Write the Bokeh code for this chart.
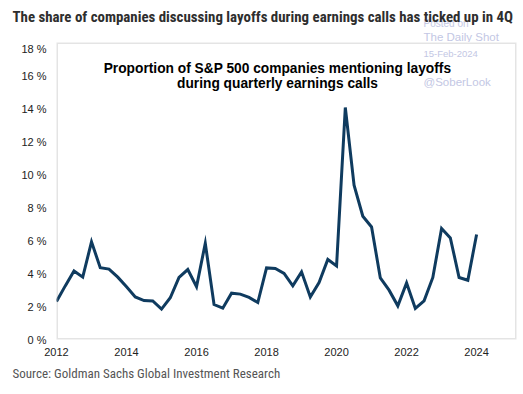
from bokeh.plotting import figure
from bokeh.models import ColumnDataSource, Range1d, FixedTicker, Label, BoxAnnotation
from bokeh.layouts import column
from bokeh.embed import file_html
from bokeh.resources import INLINE

# Quarterly share (%) of S&P 500 companies mentioning layoffs (4Q2011 .. 4Q2023)
share = [2.3, 3.25, 4.15, 3.78, 5.92, 4.35, 4.27, 3.78, 3.19, 2.58,
         2.36, 2.34, 1.84, 2.53, 3.76, 4.24, 3.2, 5.83, 2.12, 1.9,
         2.81, 2.75, 2.55, 2.24, 4.34, 4.30, 4.0, 3.25, 4.10, 2.58,
         3.45, 4.85, 4.46, 14.06, 9.35, 7.47, 6.82, 3.73, 2.99, 2.04,
         3.43, 1.88, 2.34, 3.76, 6.73, 6.16, 3.76, 3.59, 6.36]
quarter_pos = [2012 + 0.25 * i for i in range(len(share))]

x_ticks = [2012, 2014, 2016, 2018, 2020, 2022, 2024]
y_ticks = [0, 2, 4, 6, 8, 10, 12, 14, 16, 18]

title_text = "The share of companies discussing layoffs during earnings calls has ticked up in 4Q"
subtitle_1 = "Proportion of S&P 500 companies mentioning layoffs"
subtitle_2 = "during quarterly earnings calls"
source_text = "Source: Goldman Sachs Global Investment Research"

NARROW = "'Liberation Sans Narrow', 'Roboto Condensed', Roboto"
WM = "#c3c7e4"
W = 523

# ---------- header ----------
head = figure(width=W, height=42, output_backend="svg", toolbar_location=None,
              x_axis_type=None, y_axis_type=None, min_border=0, frame_align=False,
              x_range=Range1d(0, W), y_range=Range1d(42, 0))
head.outline_line_color = None
head.grid.visible = False
head.add_layout(Label(x=423, y=23, text="Posted on", text_font="Liberation Sans",
                      text_font_size="10px", text_color=WM, text_baseline="middle"))
head.add_layout(Label(x=423, y=36.5, text="The Daily Shot", text_font="Liberation Sans",
                      text_font_size="11.5px", text_color=WM, text_baseline="middle"))
head.add_layout(Label(x=12, y=16.5, text=title_text, text_font=NARROW,
                      text_font_size="14.9px", text_font_style="bold",
                      text_color="#2e2e2e", text_baseline="middle"))

# ---------- main chart ----------
src = ColumnDataSource(dict(x=quarter_pos, y=share))
p = figure(width=W, height=320, output_backend="svg", toolbar_location=None,
           x_range=Range1d(2012, 2025.14), y_range=Range1d(0, 18), frame_align=False,
           min_border_left=56, min_border_right=7, min_border_top=0, min_border_bottom=23)
p.outline_line_color = None
p.grid.visible = False

p.add_layout(BoxAnnotation(left=p.x_range.start, right=p.x_range.end,
                           bottom=p.y_range.start, top=p.y_range.end,
                           fill_color=None, line_color="#a6a6a6", line_width=3))

p.line("x", "y", source=src, line_color="#0f3b5f", line_width=3, line_join="miter")

for ax in (p.xaxis[0], p.yaxis[0]):
    ax.axis_line_color = None
    ax.major_tick_line_color = None
    ax.minor_tick_line_color = None
    ax.major_tick_out = 0
    ax.major_tick_in = 0
    ax.minor_tick_out = 0
    ax.major_label_text_font = "Liberation Sans"
    ax.major_label_text_font_size = "11px"
    ax.major_label_text_color = "#222222"

p.xaxis.ticker = FixedTicker(ticks=x_ticks)
p.xaxis.major_label_overrides = {t: str(t) for t in x_ticks}
p.xaxis.major_label_standoff = 8
p.yaxis.ticker = FixedTicker(ticks=y_ticks)
p.yaxis.major_label_overrides = {t: f"{t} %" for t in y_ticks}
p.yaxis.major_label_standoff = 10

p.add_layout(Label(x=367, y=285.7, x_units="screen", y_units="screen", text="15-Feb-2024",
                   text_font="Liberation Sans", text_font_size="9.5px",
                   text_color=WM, text_baseline="middle"))
p.add_layout(Label(x=367, y=258, x_units="screen", y_units="screen", text="@SoberLook",
                   text_font="Liberation Sans", text_font_size="11.5px",
                   text_color=WM, text_baseline="middle"))

p.add_layout(Label(x=221, y=271.3, x_units="screen", y_units="screen", text=subtitle_1,
                   text_font="Liberation Sans", text_font_size="13.75px",
                   text_font_style="bold", text_color="black",
                   text_baseline="alphabetic", text_align="center"))
p.add_layout(Label(x=221, y=255.7, x_units="screen", y_units="screen", text=subtitle_2,
                   text_font="Liberation Sans", text_font_size="13.75px",
                   text_font_style="bold", text_color="black",
                   text_baseline="alphabetic", text_align="center"))

# ---------- footer ----------
foot = figure(width=W, height=32, output_backend="svg", toolbar_location=None,
              x_axis_type=None, y_axis_type=None, min_border=0, frame_align=False,
              x_range=Range1d(0, W), y_range=Range1d(32, 0))
foot.outline_line_color = None
foot.grid.visible = False
foot.add_layout(Label(x=12, y=11, text=source_text, text_font=NARROW,
                      text_font_size="13px", text_color="#555555", text_baseline="middle"))

layout = column(head, p, foot, spacing=0)
open("out.html", "w").write(file_html(layout, INLINE))
